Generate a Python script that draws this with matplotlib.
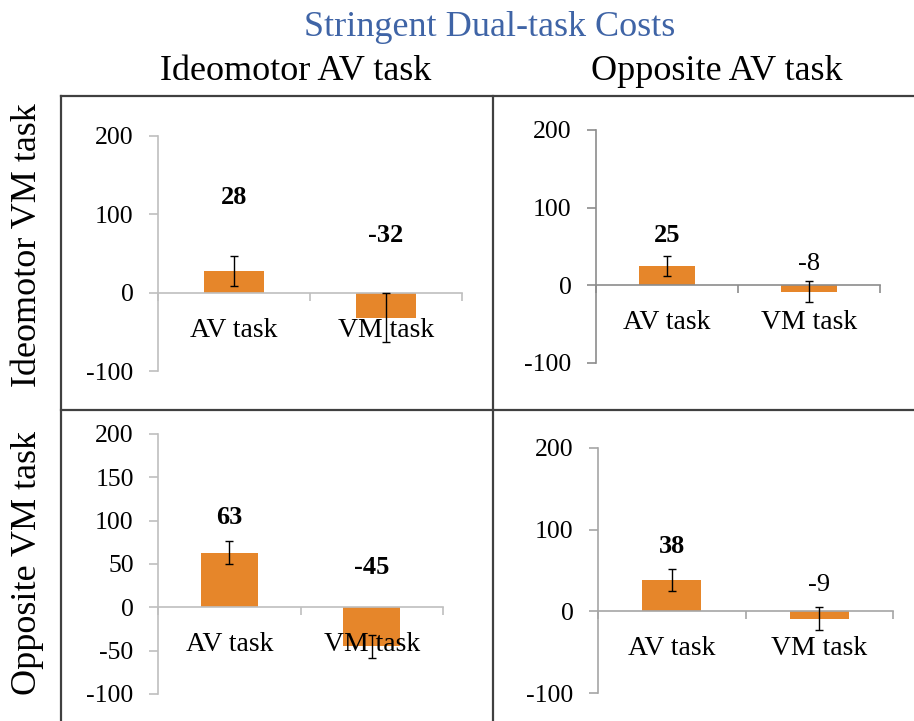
import matplotlib.pyplot as plt
from matplotlib.lines import Line2D

# dual-task cost per panel: (row = VM task type, col = AV task type)
categories = ["AV task", "VM task"]
col_titles = ["Ideomotor AV task", "Opposite AV task"]
row_titles = ["Ideomotor VM task", "Opposite VM task"]

costs_ideo_ideo = [28, -32]
costs_ideo_opp = [25, -8]
costs_opp_ideo = [63, -45]
costs_opp_opp = [38, -9]

errs_ideo_ideo = [19, 31]
errs_ideo_opp = [13, 14]
errs_opp_ideo = [13, 13.5]
errs_opp_opp = [13.5, 14]

# which labels are printed bold
bold_ideo_ideo = [True, True]
bold_ideo_opp = [True, False]
bold_opp_ideo = [True, True]
bold_opp_opp = [True, False]

# layout: axes boxes in pixels (x0, y_top, x1, y_bottom), label heights, y ticks
W, H = 914, 721
panels = [
    dict(box=(158, 136, 462, 371), vals=costs_ideo_ideo, errs=errs_ideo_ideo,
         bold=bold_ideo_ideo, label_y=[122, 73], yticks=[-100, 0, 100, 200], spine="#BFBFBF"),
    dict(box=(596, 130, 880, 363), vals=costs_ideo_opp, errs=errs_ideo_opp,
         bold=bold_ideo_opp, label_y=[64, 27], yticks=[-100, 0, 100, 200], spine="#8C8C8C"),
    dict(box=(158, 434, 443, 694), vals=costs_opp_ideo, errs=errs_opp_ideo,
         bold=bold_opp_ideo, label_y=[104, 46], yticks=[-100, -50, 0, 50, 100, 150, 200], spine="#BFBFBF"),
    dict(box=(598, 448, 893, 693), vals=costs_opp_opp, errs=errs_opp_opp,
         bold=bold_opp_opp, label_y=[79, 32], yticks=[-100, 0, 100, 200], spine="#A6A6A6"),
]

BAR = "#E6862A"
FONT = "Liberation Serif"
plt.rcParams['font.family'] = FONT
plt.rcParams['axes.unicode_minus'] = False

fig = plt.figure(figsize=(W / 100, H / 100), dpi=100)

for p in panels:
    x0, yt, x1, yb = p["box"]
    ax = fig.add_axes([x0 / W, 1 - yb / H, (x1 - x0) / W, (yb - yt) / H])
    xs = [0.5, 1.5]
    ax.bar(xs, p["vals"], width=0.4, color=BAR, zorder=2)
    ax.errorbar(xs, p["vals"], yerr=p["errs"], fmt="none", ecolor="black",
                elinewidth=1, capsize=3, capthick=1, zorder=3)
    ax.set_xlim(0, 2)
    ax.set_ylim(-100, 200)
    for sp in ("top", "right"):
        ax.spines[sp].set_visible(False)
    ax.spines["bottom"].set_position(("data", 0))
    for sp in ("left", "bottom"):
        ax.spines[sp].set_color(p["spine"])
        ax.spines[sp].set_linewidth(1.2)
    ax.set_xticks([0, 1, 2])
    ax.set_xticklabels([])
    ax.set_yticks(p["yticks"])
    ax.tick_params(axis="x", direction="out", length=6, width=1.2, color=p["spine"])
    ax.tick_params(axis="y", direction="out", length=6.5, width=1.2, color=p["spine"],
                   pad=11, labelsize=18.5, labelcolor="black")
    ax.patch.set_alpha(0)
    for x, cat in zip(xs, categories):
        ax.annotate(cat, (x, 0), xytext=(0, -27), textcoords="offset points",
                    ha="center", va="center", fontsize=20)
    for x, v, ly, b in zip(xs, p["vals"], p["label_y"], p["bold"]):
        ax.text(x, ly, f"{v}", ha="center", va="center", fontsize=19,
                fontweight="bold" if b else "normal")

# grid frame lines
def hline(y, xa, xb):
    fig.add_artist(Line2D([xa / W, xb / W], [1 - y / H, 1 - y / H], color="#404040", lw=1.6))

def vline(x, ya, yb):
    fig.add_artist(Line2D([x / W, x / W], [1 - ya / H, 1 - yb / H], color="#404040", lw=1.6))

hline(96, 61, 914)
hline(410, 61, 914)
vline(61, 96, 721)
vline(493, 96, 721)

fig.text(490 / W, 1 - 28 / H, "Stringent Dual-task Costs", ha="center", va="center",
         fontsize=26, color="#3F64A6")
fig.text(296 / W, 1 - 72 / H, col_titles[0], ha="center", va="center", fontsize=26)
fig.text(717 / W, 1 - 72 / H, col_titles[1], ha="center", va="center", fontsize=26)
fig.text(28 / W, 1 - 245 / H, row_titles[0], ha="center", va="center", fontsize=26, rotation=90)
fig.text(28 / W, 1 - 563 / H, row_titles[1], ha="center", va="center", fontsize=26, rotation=90)

fig.savefig("out.png", dpi=100, facecolor="white")
